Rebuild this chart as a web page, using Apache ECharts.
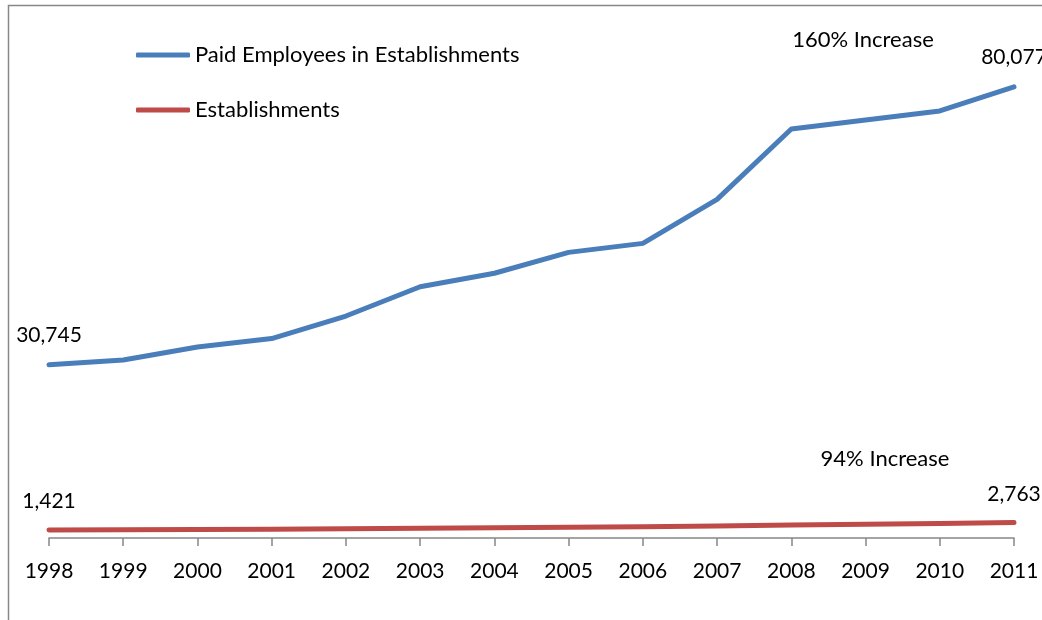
<!DOCTYPE html>
<html>
<head>
<meta charset="utf-8">
<script src="https://cdn.jsdelivr.net/npm/echarts@6/dist/echarts.min.js"></script>
<style>
  html, body { margin: 0; padding: 0; background: #fff; }
  #chart { width: 1042px; height: 620px; }
</style>
</head>
<body>
<div id="chart"></div>
<script>
// Years on the category axis
const years = ['1998', '1999', '2000', '2001', '2002', '2003', '2004',
               '2005', '2006', '2007', '2008', '2009', '2010', '2011'];

// Paid employees working in establishments
const paidEmployees = [30745, 31600, 33900, 35400, 39400, 44600, 47000,
                       50700, 52300, 60100, 72600, 74200, 75800, 80077];

// Number of establishments
const establishments = [1421, 1460, 1510, 1560, 1650, 1740, 1840,
                        1920, 2000, 2120, 2300, 2450, 2580, 2763];

const seriesNames = ['Paid Employees in Establishments', 'Establishments'];
const increaseNotes = ['160% Increase', '94% Increase'];

const FONT = 'Lato, "Open Sans", sans-serif';
const TEXT_SIZE = 22;
const NUM_SIZE = 21;

// Only the first and last points carry a value label
function endLabels(values, offsetY) {
  return values.map((v, i) => {
    if (i === 0 || i === values.length - 1) {
      return {
        value: v,
        label: {
          show: true,
          position: 'top',
          distance: offsetY,
          formatter: p => p.value.toLocaleString('en-US'),
          color: '#000',
          fontFamily: FONT,
          fontSize: NUM_SIZE
        }
      };
    }
    return v;
  });
}

const chart = echarts.init(document.getElementById('chart'), null, { renderer: 'canvas' });

chart.setOption({
  animation: false,
  backgroundColor: '#fff',
  grid: { left: 49, right: 28, top: 31, bottom: 82, containLabel: false },
  legend: {
    orient: 'vertical',
    left: 131,
    top: 38,
    itemWidth: 54,
    itemHeight: 5,
    itemGap: 31,
    icon: 'roundRect',
    textStyle: { color: '#000', fontFamily: FONT, fontSize: TEXT_SIZE, lineHeight: 24 },
    data: seriesNames
  },
  xAxis: {
    type: 'category',
    data: years,
    boundaryGap: false,
    axisLine: { lineStyle: { color: '#878787', width: 1.5 } },
    axisTick: { show: true, length: 8, alignWithLabel: true, lineStyle: { color: '#878787', width: 1.5 } },
    axisLabel: { color: '#000', fontFamily: FONT, fontSize: NUM_SIZE, margin: 23 },
    splitLine: { show: false }
  },
  yAxis: {
    type: 'value',
    min: 0,
    max: 90000,
    show: false
  },
  series: [
    {
      name: seriesNames[0],
      type: 'line',
      data: endLabels(paidEmployees, 19),
      symbol: 'circle',
      symbolSize: 0,
      showSymbol: true,
      lineStyle: { color: '#4A7EBB', width: 5, cap: 'round', join: 'round' },
      itemStyle: { color: '#4A7EBB' },
      z: 3
    },
    {
      name: seriesNames[1],
      type: 'line',
      data: endLabels(establishments, 18),
      symbol: 'circle',
      symbolSize: 0,
      showSymbol: true,
      lineStyle: { color: '#BE4B48', width: 5, cap: 'round', join: 'round' },
      itemStyle: { color: '#BE4B48' },
      z: 3
    }
  ],
  graphic: [
    {
      type: 'rect',
      shape: { x: 8.5, y: 5.5, width: 1200, height: 800 },
      style: { fill: 'none', stroke: '#878787', lineWidth: 1.5 },
      silent: true,
      z: 0
    },
    {
      type: 'text',
      x: 863, y: 40,
      style: { text: increaseNotes[0], fill: '#000', font: TEXT_SIZE + 'px ' + FONT, textAlign: 'center', textVerticalAlign: 'middle' }
    },
    {
      type: 'text',
      x: 885, y: 459,
      style: { text: increaseNotes[1], fill: '#000', font: TEXT_SIZE + 'px ' + FONT, textAlign: 'center', textVerticalAlign: 'middle' }
    }
  ]
});
</script>
</body>
</html>
